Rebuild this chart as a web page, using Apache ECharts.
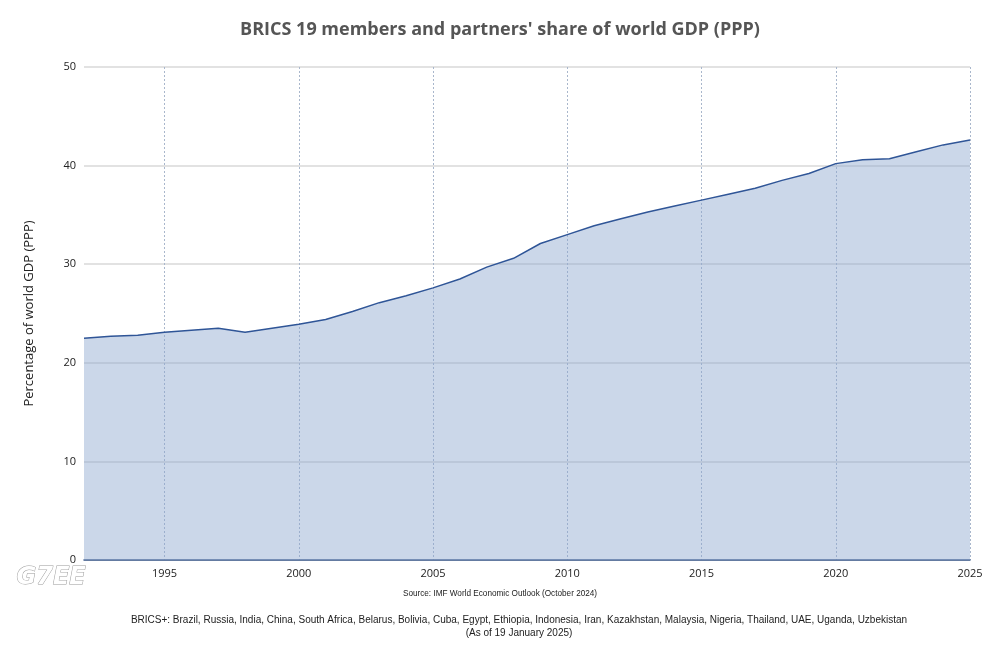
<!DOCTYPE html>
<html>
<head>
<meta charset="utf-8">
<script src="https://cdn.jsdelivr.net/npm/echarts@6/dist/echarts.min.js"></script>
<style>
  html, body { margin: 0; padding: 0; background: #fff; }
  #chart { width: 1000px; height: 647px; }
</style>
</head>
<body>
<div id="chart"></div>
<script>
// years 1992..2025
var years = [];
for (var y = 1992; y <= 2025; y++) years.push(String(y));

// BRICS+ share of world GDP (PPP), %
var share = [
  22.5, 22.7, 22.8, 23.1, 23.3, 23.5, 23.1, 23.5, 23.9, 24.4,
  25.2, 26.1, 26.8, 27.6, 28.5, 29.7, 30.6, 32.1, 33.0, 33.9,
  34.6, 35.3, 35.9, 36.5, 37.1, 37.7, 38.5, 39.2, 40.2, 40.6,
  40.7, 41.4, 42.1, 42.6
];

var chart = echarts.init(document.getElementById('chart'));

function every5(idx, val) {
  return Number(val) % 5 === 0;
}

var option = {
  animation: false,
  title: {
    text: "BRICS 19 members and partners' share of world GDP (PPP)",
    left: 'center',
    top: 16,
    textStyle: {
      fontFamily: 'Open Sans',
      fontSize: 18,
      fontWeight: 'bold',
      color: '#555'
    }
  },
  grid: { left: 84, right: 30, top: 67, bottom: 87 },
  xAxis: {
    type: 'category',
    data: years,
    boundaryGap: false,
    axisLine: { lineStyle: { color: '#3b5a8c', width: 1.5 } },
    axisTick: { show: false },
    axisLabel: {
      interval: every5,
      color: '#222',
      fontFamily: 'Open Sans',
      fontSize: 11,
      margin: 8
    },
    splitLine: {
      show: true,
      interval: every5,
      lineStyle: { color: '#a9b7cc', type: [2, 2], width: 1 }
    }
  },
  yAxis: {
    type: 'value',
    min: 0,
    max: 50,
    interval: 10,
    name: 'Percentage of world GDP (PPP)',
    nameLocation: 'middle',
    nameGap: 48,
    nameTextStyle: { fontFamily: 'Open Sans', fontSize: 13, color: '#222' },
    axisLine: { show: false },
    axisTick: { show: false },
    axisLabel: { color: '#222', fontFamily: 'Open Sans', fontSize: 11, margin: 8 },
    splitLine: { lineStyle: { color: '#d9d9d9', width: 1.5 } }
  },
  series: [{
    type: 'line',
    data: share,
    symbol: 'none',
    lineStyle: { color: '#2f5597', width: 1.5 },
    areaStyle: { color: 'rgba(140,166,206,0.45)', opacity: 1 }
  }],
  graphic: [
    {
      type: 'text',
      x: 500,
      y: 590,
      style: {
        text: 'Source: IMF World Economic Outlook (October 2024)',
        font: '8.2px "Liberation Sans"',
        fill: '#222',
        align: 'center'
      }
    },
    {
      type: 'text',
      x: 519,
      y: 614,
      style: {
        text: 'BRICS+: Brazil, Russia, India, China, South Africa, Belarus, Bolivia, Cuba, Egypt, Ethiopia, Indonesia, Iran, Kazakhstan, Malaysia, Nigeria, Thailand, UAE, Uganda, Uzbekistan\n(As of 19 January 2025)',
        font: '10px "Liberation Sans"',
        fill: '#222',
        align: 'center',
        lineHeight: 13
      }
    },
    {
      type: 'text',
      left: 16,
      top: 565,
      style: {
        text: 'G7EE',
        font: 'italic bold 24px "DejaVu Sans"',
        fill: '#fff',
        stroke: '#9a9a9a',
        lineWidth: 1
      }
    }
  ]
};

chart.setOption(option);
</script>
</body>
</html>
